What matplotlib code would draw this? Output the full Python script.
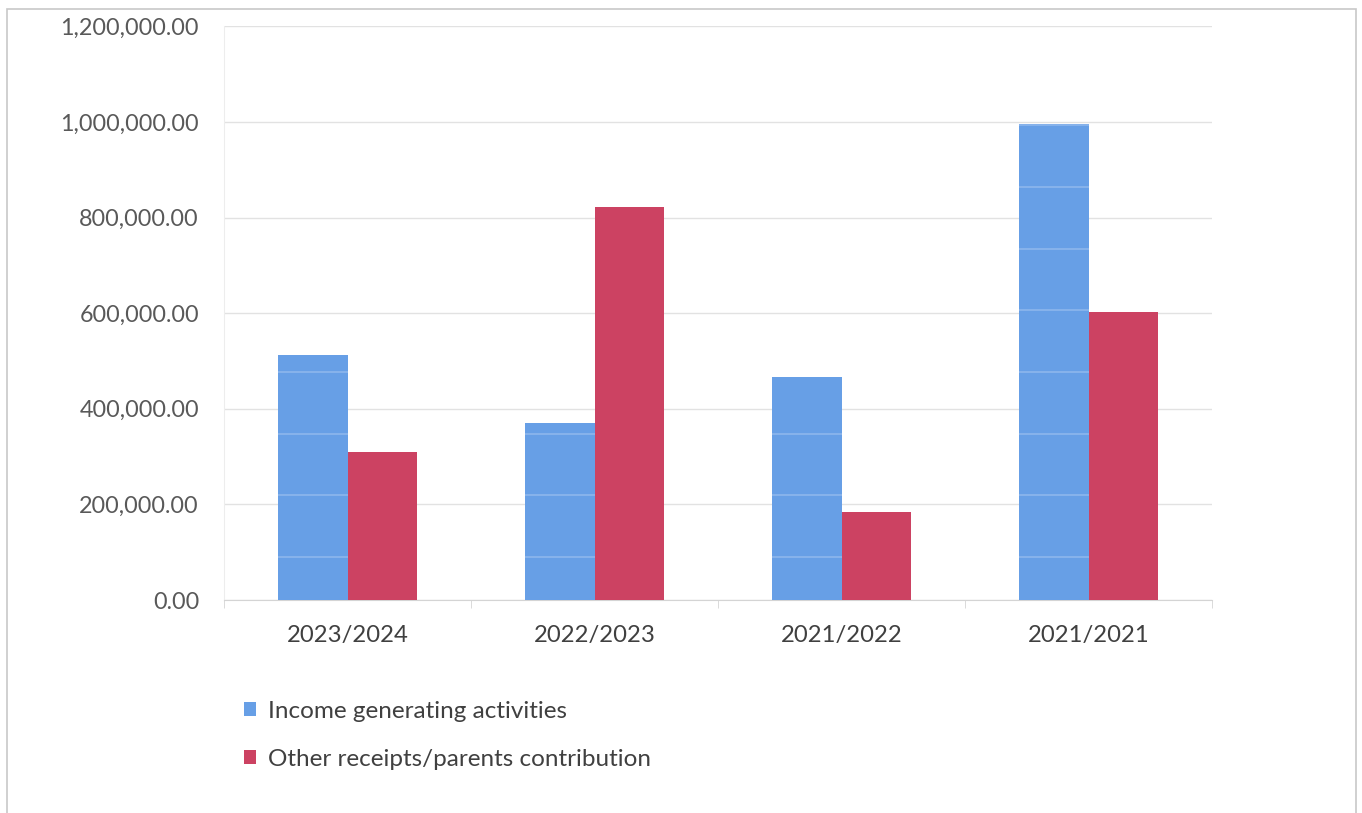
import matplotlib
matplotlib.use("Agg")
import matplotlib.pyplot as plt
from matplotlib.patches import Rectangle, Patch
from matplotlib.ticker import FuncFormatter, FixedLocator
import numpy as np

categories = ["2023/2024", "2022/2023", "2021/2022", "2021/2021"]
series_names = ["Income generating activities", "Other receipts/parents contribution"]
income = [512000, 371000, 467000, 995000]
other = [310000, 822000, 185000, 603000]
colors = ["#679FE6", "#CC4262"]

plt.rcParams['font.family'] = ['Lato', 'DejaVu Sans']

fig = plt.figure(figsize=(13.62, 8.13), dpi=100)
fig.patch.set_facecolor("white")
ax = fig.add_axes([224/1362, 1-600/813, (1212-224)/1362, (600-26.4)/813])

x = np.arange(len(categories))
w = 0.283
b1 = ax.bar(x - w/2, income, w, color=colors[0], linewidth=0, zorder=3)
b2 = ax.bar(x + w/2, other, w, color=colors[1], linewidth=0, zorder=3)

# faint lighter banding inside the blue bars (scan artifact look)
for rect in b1:
    for yv in np.arange(90000, rect.get_height(), 129000):
        ln = ax.axhline(yv, color="white", alpha=0.25, lw=1.2, zorder=4)
        ln.set_clip_path(rect)

ax.set_xlim(-0.5, len(categories)-0.5)
ax.set_ylim(0, 1200000)
ax.set_yticks(np.arange(0, 1200001, 200000))
ax.yaxis.set_major_formatter(FuncFormatter(lambda v, p: f"{v:,.2f}"))
ax.set_xticks(x)
ax.set_xticklabels(categories)
ax.xaxis.set_minor_locator(FixedLocator(np.arange(-0.5, len(categories), 1.0)))

ax.grid(axis="y", color="#E2E2E2", lw=1.0, zorder=0)
for s in ["top", "right"]:
    ax.spines[s].set_visible(False)
ax.spines["left"].set_color("#EDEDED")
ax.spines["bottom"].set_color("#D4D4D4")
ax.tick_params(axis="y", length=0, pad=18, labelsize=16.8, labelcolor="#595959")
ax.tick_params(axis="x", which="major", length=0, pad=18, labelsize=17.2, labelcolor="#404040")
ax.tick_params(axis="x", which="minor", length=6, color="#D4D4D4")

handles = [Patch(facecolor=c, edgecolor="none") for c in colors]
fig.legend(handles, series_names, loc="upper left",
           bbox_to_anchor=(244/1362, 1-701/813), frameon=False,
           fontsize=17.5, labelcolor="#404040", handlelength=0.5, handleheight=0.5,
           handletextpad=0.5, labelspacing=1.1, borderaxespad=0, borderpad=0)

fig.patches.append(Rectangle((7/1362, -0.01), (1356-7)/1362, 1.01-9/813+0.0,
                             transform=fig.transFigure, fill=False,
                             edgecolor="#C8C8C8", lw=1.2))

fig.savefig("out.png", dpi=100)
